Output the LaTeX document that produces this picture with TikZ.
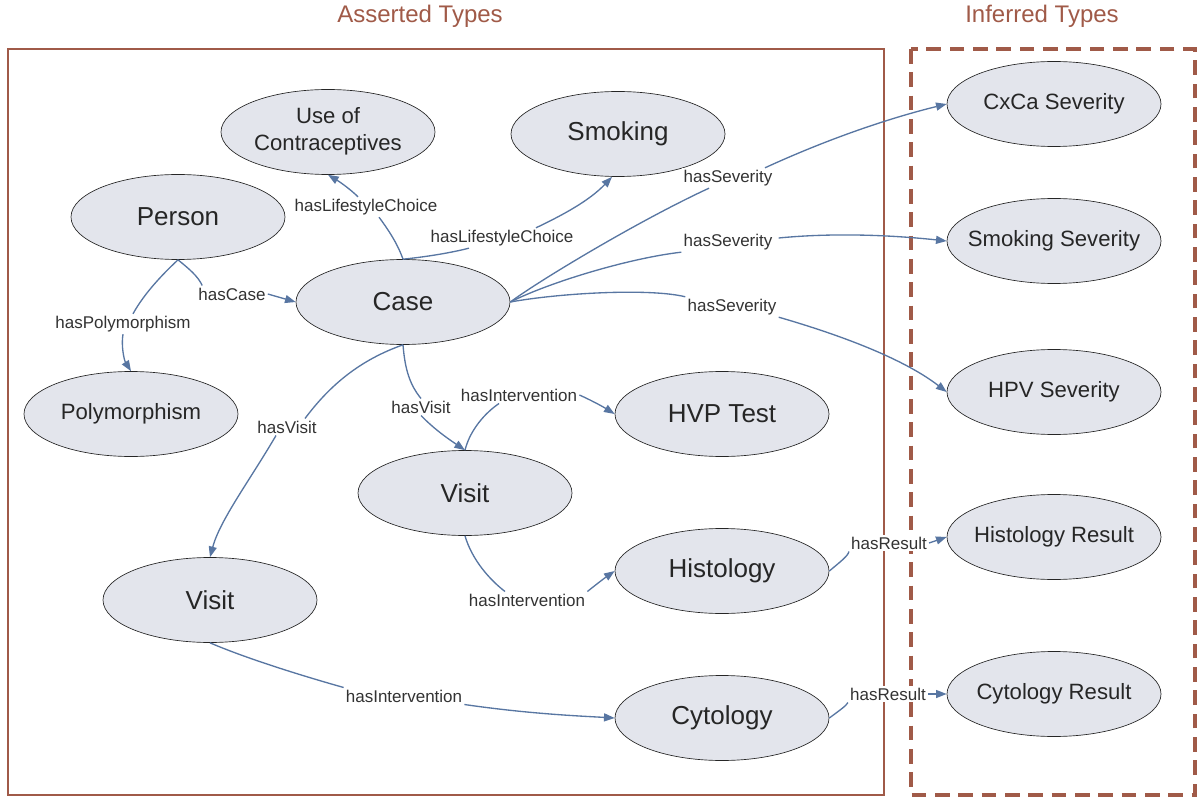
\documentclass[tikz,border=0pt]{standalone}
\usepackage{fontspec}
\setmainfont{Liberation Sans}
\usetikzlibrary{shapes.geometric,arrows.meta,calc}
\definecolor{brownc}{HTML}{A05A48}
\definecolor{edgec}{HTML}{5876A2}
\definecolor{nodefill}{HTML}{E3E5EC}
\newcommand{\zw}[1]{\makebox[0pt]{#1}}
\begin{document}
\begin{tikzpicture}[x=0.75pt,y=-0.75pt,
  ell/.style={ellipse,draw=black!85,line width=0.5pt,fill=nodefill,minimum width=160.5pt,minimum height=63.75pt,inner sep=0pt,text=black!85},
  big/.style={ell,font=\fontsize{19.5}{23}\selectfont},
  mid/.style={ell,font=\fontsize{16.6}{20}\selectfont},
  lbl/.style={inner sep=1.5pt,fill=white,font=\fontsize{12.75}{15}\selectfont,text=black!80},
  edge/.style={draw=edgec,line width=1pt},
  arr/.style={edge,-{Triangle[length=8pt,width=6pt]}},
  title/.style={text=brownc,font=\fontsize{18}{21}\selectfont}]
\useasboundingbox (0,0) rectangle (1198,798);
% titles and frames
\node[title] (tA) at (420,16) {Asserted Types};
\node[title] (tI) at (1042,16) {Inferred Types};
\draw[brownc,line width=1.1pt] (8,49) rectangle (884,795);
\draw[brownc,line width=2.6pt,dash pattern=on 11pt off 6.5pt] (911,49) rectangle (1195,795);
% nodes
\node[mid] (uoc) at (328,132) {\zw{\begin{tabular}{@{}c@{}}Use of\\Contraceptives\end{tabular}}};
\node[big] (smoking) at (618,134) {\zw{Smoking}};
\node[big] (person) at (178,217) {\zw{Person}};
\node[big] (case) at (403,302) {\zw{Case}};
\node[mid] (poly) at (131,414) {\zw{Polymorphism}};
\node[big] (hvp) at (722,414) {\zw{HVP Test}};
\node[big] (visit1) at (465,493) {\zw{Visit}};
\node[big] (visit2) at (210,600) {\zw{Visit}};
\node[big] (histology) at (722,571) {\zw{Histology}};
\node[big] (cytology) at (722,718) {\zw{Cytology}};
\node[mid] (cxca) at (1054,104) {\zw{CxCa Severity}};
\node[mid] (smokesev) at (1054,241) {\zw{Smoking Severity}};
\node[mid] (hpvsev) at (1054,392) {\zw{HPV Severity}};
\node[mid] (histres) at (1054,537) {\zw{Histology Result}};
\node[mid] (cytres) at (1054,694) {\zw{Cytology Result}};
% labels
\node[lbl] (lCase) at (232,294) {hasCase};
\node[lbl] (lPoly) at (123,324) {hasPolymorphism};
\node[lbl] (lLC1) at (366,207) {hasLifestyleChoice};
\node[lbl] (lLC2) at (502,238) {hasLifestyleChoice};
\node[lbl] (lSev1) at (728,178) {hasSeverity};
\node[lbl] (lSev2) at (728,242) {hasSeverity};
\node[lbl] (lSev3) at (732,307) {hasSeverity};
\node[lbl] (lVisR) at (421,407) {hasVisit};
\node[lbl] (lVisL) at (287,427) {hasVisit};
\node[lbl] (lInt1) at (519,395) {hasIntervention};
\node[lbl] (lInt2) at (527,600) {hasIntervention};
\node[lbl] (lInt3) at (404,696) {hasIntervention};
\node[lbl] (lRes1) at (889,543) {hasResult};
\node[lbl] (lRes2) at (888,694) {hasResult};
% edges
\draw[edge] (person.south) .. controls (188,268) and (198,276) .. ($(lCase.north west)+(6,0)$);
\draw[arr] (lCase.east) -- (case.west);
\draw[edge] (person.south) .. controls (165,272) and (145,292) .. ($(lPoly.north)+(10,0)$);
\draw[arr] (lPoly.south) .. controls (121,345) and (124,360) .. (poly.north);
\draw[edge] (case.north) .. controls (398,245) and (390,232) .. ($(lLC1.south)+(13,0)$);
\draw[arr] ($(lLC1.north)+(-8,0)$) .. controls (350,189) and (340,182) .. (uoc.south);
\draw[edge] (case.north) .. controls (425,257) and (450,253) .. ($(lLC2.south)+(-33,0)$);
\draw[arr] ($(lLC2.north)+(34,0)$) .. controls (565,214) and (590,200) .. ($(smoking.south)+(-6,0)$);
\draw[edge] (case.east) .. controls (540,280) and (640,220) .. ($(lSev1.south)+(-19,0)$);
\draw[arr] ($(lSev1.north)+(37,0)$) .. controls (830,138) and (890,118) .. (cxca.west);
\draw[edge] (case.east) .. controls (550,282) and (630,258) .. (lSev2.south west);
\draw[arr] ($(lSev2.east)+(4,-4)$) .. controls (840,232) and (900,236) .. (smokesev.west);
\draw[edge] (case.east) .. controls (560,293) and (650,288) .. (lSev3.north west);
\draw[arr] (lSev3.south east) .. controls (830,332) and (900,356) .. (hpvsev.west);
\draw[edge] (case.south) .. controls (405,370) and (410,385) .. (lVisR.north);
\draw[arr] (lVisR.south) .. controls (435,430) and (450,440) .. (visit1.north);
\draw[edge] (case.south) .. controls (360,360) and (330,385) .. ($(lVisL.north)+(18,0)$);
\draw[arr] ($(lVisL.south)+(-11,0)$) .. controls (250,480) and (220,520) .. (visit2.north);
\draw[edge] (visit1.north) .. controls (470,430) and (485,413) .. ($(lInt1.south)+(-20,0)$);
\draw[arr] (lInt1.east) .. controls (595,402) and (605,408) .. (hvp.west);
\draw[edge] (visit1.south) .. controls (472,560) and (490,580) .. ($(lInt2.north)+(-22,0)$);
\draw[arr] (lInt2.north east) .. controls (598,583) and (606,577) .. (histology.west);
\draw[edge] (visit2.south) .. controls (250,660) and (310,678) .. (lInt3.north west);
\draw[arr] (lInt3.south east) .. controls (530,714) and (580,716) .. (cytology.west);
\draw[edge] (histology.east) .. controls (840,562) and (848,556) .. (lRes1.south west);
\draw[arr] (lRes1.east) -- (histres.west);
\draw[edge] (cytology.east) .. controls (840,710) and (846,706) .. (lRes2.south west);
\draw[arr] (lRes2.east) -- (cytres.west);
\end{tikzpicture}
\end{document}
